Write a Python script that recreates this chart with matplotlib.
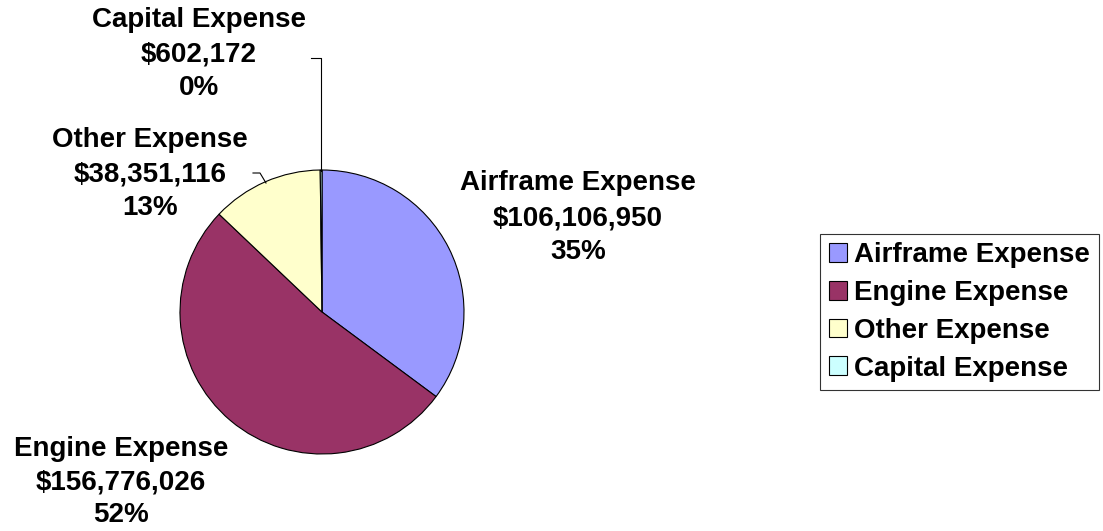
import matplotlib.pyplot as plt
from matplotlib.patches import Patch

categories = ['Airframe Expense', 'Engine Expense', 'Other Expense', 'Capital Expense']
values = [106106950, 156776026, 38351116, 602172]
colors = ['#9999FF', '#993366', '#FFFFCC', '#CCFFFF']

W, H = 1103, 531
fig = plt.figure(figsize=(W / 100, H / 100), dpi=100)
ax = fig.add_axes([0, 0, 1, 1])

# pie in pixel coordinates (y flipped by hand)
cx, cy, r = 322, 312, 142
ax.pie(values, colors=colors, startangle=90, counterclock=False,
       center=(cx, H - cy), radius=r,
       wedgeprops=dict(edgecolor='black', linewidth=0.8))
ax.set_xlim(0, W)
ax.set_ylim(0, H)
ax.set_aspect('equal')
ax.axis('off')

total = sum(values)
# label centres (x, y of each line) in pixels
label_pos = {
    'Airframe Expense': (578, [183, 218, 252]),
    'Engine Expense': (121, [449, 482, 515]),
    'Other Expense': (150, [140, 174, 208]),
    'Capital Expense': (199, [20, 55, 88]),
}
font = dict(family=['Liberation Sans', 'DejaVu Sans'], fontsize=20, fontweight='bold')
for name, v in zip(categories, values):
    x, ys = label_pos[name]
    lines = [name, '${:,}'.format(v), '{:.0f}%'.format(100 * v / total)]
    for line, y in zip(lines, ys):
        ax.text(x, H - y, line, ha='center', va='center', **font)

# leader lines
ax.plot([311, 321, 321], [H - 58, H - 58, H - 171], color='black', lw=0.8)
ax.plot([253, 260, 266], [H - 173, H - 173, H - 183], color='black', lw=0.8)

handles = [Patch(facecolor=c, edgecolor='black', linewidth=0.8) for c in colors]
leg = fig.legend(handles, categories, loc='center left',
                 bbox_to_anchor=(820 / W, (H - 312) / H),
                 prop=dict(family=['Liberation Sans', 'DejaVu Sans'], size=20, weight='bold'),
                 frameon=True, fancybox=False, edgecolor='black',
                 handlelength=0.65, handleheight=0.65, handletextpad=0.25,
                 labelspacing=0.42, borderpad=0.32, borderaxespad=0)
leg.get_frame().set_linewidth(0.8)

fig.savefig('out.png', dpi=100)
